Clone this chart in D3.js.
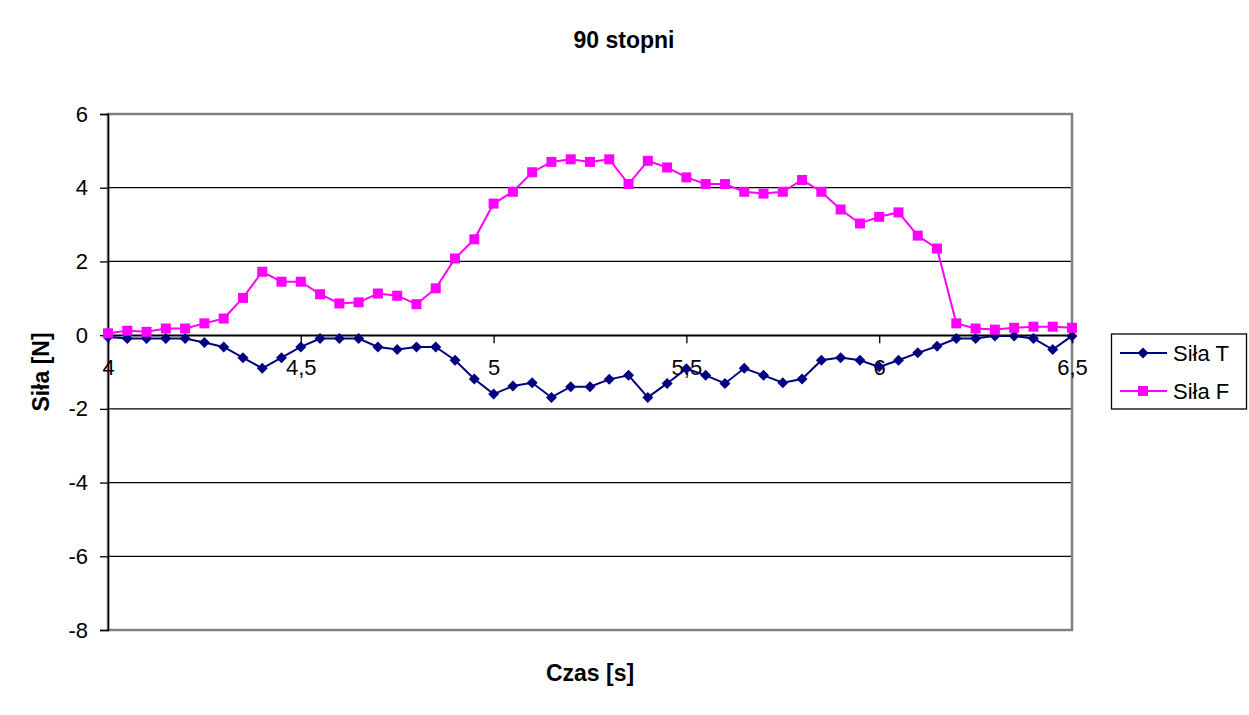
<!DOCTYPE html>
<html>
<head>
<meta charset="utf-8">
<script src="https://cdn.jsdelivr.net/npm/d3@7"></script>
<style>
  html, body { margin: 0; padding: 0; background: #fff; }
  svg { display: block; font-family: "Liberation Sans", Arial, sans-serif; }
</style>
</head>
<body>
<svg id="chart" width="1249" height="715"></svg>
<script>
const title = "90 stopni";
const xTitle = "Czas [s]";
const yTitle = "Siła [N]";
const seriesNames = ["Siła T", "Siła F"];
const time = [4.00,4.05,4.10,4.15,4.20,4.25,4.30,4.35,4.40,4.45,4.50,4.55,4.60,4.65,4.70,4.75,4.80,4.85,4.90,4.95,
  5.00,5.05,5.10,5.15,5.20,5.25,5.30,5.35,5.40,5.45,5.50,5.55,5.60,5.65,5.70,5.75,5.80,5.85,5.90,5.95,
  6.00,6.05,6.10,6.15,6.20,6.25,6.30,6.35,6.40,6.45,6.50];
const silaT = [-0.05,-0.09,-0.09,-0.09,-0.09,-0.20,-0.32,-0.61,-0.90,-0.61,-0.32,-0.09,-0.09,-0.09,-0.32,-0.39,-0.32,-0.32,-0.68,-1.19,
  -1.60,-1.38,-1.29,-1.69,-1.40,-1.40,-1.20,-1.09,-1.69,-1.31,-0.91,-1.09,-1.31,-0.90,-1.09,-1.29,-1.19,-0.68,-0.61,-0.68,
  -0.86,-0.68,-0.48,-0.30,-0.09,-0.09,-0.02,-0.02,-0.09,-0.39,-0.02];
const silaF = [0.05,0.12,0.09,0.18,0.18,0.32,0.45,1.01,1.72,1.45,1.45,1.11,0.86,0.89,1.13,1.07,0.84,1.27,2.08,2.60,
  3.57,3.89,4.42,4.70,4.77,4.70,4.77,4.10,4.73,4.55,4.28,4.10,4.10,3.89,3.84,3.89,4.21,3.89,3.41,3.03,
  3.21,3.33,2.70,2.35,0.32,0.18,0.15,0.20,0.23,0.23,0.20];
const xTicks = [4, 4.5, 5, 5.5, 6, 6.5];
const xTickLabels = ["4", "4,5", "5", "5,5", "6", "6,5"];
const yTicks = [6, 4, 2, 0, -2, -4, -6, -8];

const colors = { T: "#000080", F: "#FF00FF" };
const svg = d3.select("#chart");
const L = 108, R = 1072, T = 114, B = 630;
const x = d3.scaleLinear().domain([4, 6.5]).range([L, R]);
const y = d3.scaleLinear().domain([-8, 6]).range([B, T]);

// gridlines
svg.append("g").selectAll("line").data(yTicks.filter(v => v !== 6 && v !== -8)).join("line")
  .attr("x1", L).attr("x2", R).attr("y1", d => y(d)).attr("y2", d => y(d))
  .attr("stroke", "#000").attr("stroke-width", 1.3);

// plot border (gray)
svg.append("rect").attr("x", L).attr("y", T).attr("width", R - L).attr("height", B - T)
  .attr("fill", "none").attr("stroke", "#808080").attr("stroke-width", 2.5);

// y axis
const yAxis = d3.axisLeft(y).tickValues(yTicks).tickSize(8).tickPadding(12).tickFormat(d => d < 0 ? "-" + Math.abs(d) : String(d));
const gy = svg.append("g").attr("transform", `translate(${L},0)`).call(yAxis);
gy.select(".domain").attr("stroke", "#000").attr("stroke-width", 1.5);
gy.selectAll(".tick line").attr("stroke", "#000").attr("stroke-width", 1.3);
gy.selectAll(".tick text").attr("font-size", 22).attr("fill", "#000")
  .attr("font-family", "Liberation Sans, Arial, sans-serif");

// x axis at y=0
const xAxis = d3.axisBottom(x).tickValues(xTicks).tickSize(8).tickPadding(16)
  .tickFormat((d, i) => xTickLabels[i]);
const gx = svg.append("g").attr("transform", `translate(0,${y(0)})`).call(xAxis);
gx.select(".domain").attr("stroke", "#000").attr("stroke-width", 1.5);
gx.selectAll(".tick line").attr("stroke", "#000").attr("stroke-width", 1.3);
gx.selectAll(".tick text").attr("font-size", 22).attr("fill", "#000")
  .attr("font-family", "Liberation Sans, Arial, sans-serif");

// series
const dataT = time.map((t, i) => [t, silaT[i]]);
const dataF = time.map((t, i) => [t, silaF[i]]);
const line = d3.line().x(d => x(d[0])).y(d => y(d[1]));

svg.append("path").datum(dataT).attr("d", line).attr("fill", "none")
  .attr("stroke", colors.T).attr("stroke-width", 2);
const diamond = (cx, cy, r) => `M${cx},${cy - r}L${cx + r},${cy}L${cx},${cy + r}L${cx - r},${cy}Z`;
svg.append("g").selectAll("path").data(dataT).join("path")
  .attr("d", d => diamond(x(d[0]), y(d[1]), 5.5)).attr("fill", colors.T);

svg.append("path").datum(dataF).attr("d", line).attr("fill", "none")
  .attr("stroke", colors.F).attr("stroke-width", 2);
svg.append("g").selectAll("rect").data(dataF).join("rect")
  .attr("x", d => x(d[0]) - 5).attr("y", d => y(d[1]) - 5)
  .attr("width", 10).attr("height", 10).attr("fill", colors.F);

// titles
svg.append("text").attr("x", 624).attr("y", 48).attr("text-anchor", "middle")
  .attr("font-size", 23).attr("font-weight", "bold").text(title);
svg.append("text").attr("x", (L + R) / 2).attr("y", 681).attr("text-anchor", "middle")
  .attr("font-size", 23).attr("font-weight", "bold").text(xTitle);
svg.append("text").attr("transform", `translate(49,${(T + B) / 2}) rotate(-90)`)
  .attr("text-anchor", "middle").attr("font-size", 23).attr("font-weight", "bold").text(yTitle);

// legend
const lg = svg.append("g");
lg.append("rect").attr("x", 1111.5).attr("y", 334).attr("width", 135).attr("height", 75)
  .attr("fill", "#fff").attr("stroke", "#000").attr("stroke-width", 1.3);
const legendItems = [
  { name: seriesNames[0], color: colors.T, shape: "diamond", cy: 353 },
  { name: seriesNames[1], color: colors.F, shape: "square", cy: 391 }
];
legendItems.forEach(it => {
  lg.append("line").attr("x1", 1120).attr("x2", 1167).attr("y1", it.cy).attr("y2", it.cy)
    .attr("stroke", it.color).attr("stroke-width", 2);
  if (it.shape === "diamond") {
    lg.append("path").attr("d", diamond(1143, it.cy, 5.5)).attr("fill", it.color);
  } else {
    lg.append("rect").attr("x", 1138).attr("y", it.cy - 5).attr("width", 10).attr("height", 10).attr("fill", it.color);
  }
  lg.append("text").attr("x", 1173).attr("y", it.cy + 8).attr("font-size", 22).text(it.name);
});
</script>
</body>
</html>
